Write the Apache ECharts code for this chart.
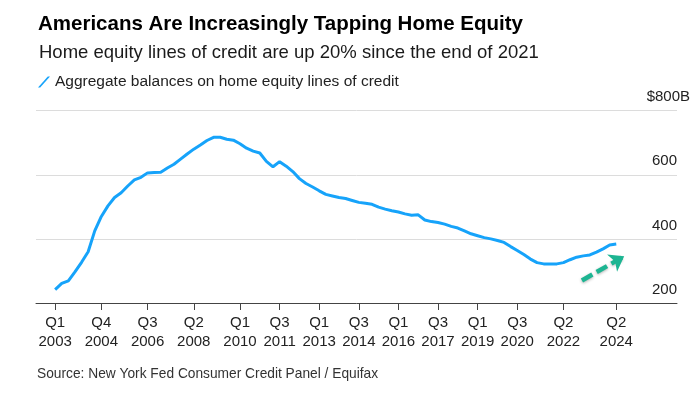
<!DOCTYPE html>
<html>
<head>
<meta charset="utf-8">
<script src="https://cdn.jsdelivr.net/npm/echarts@6/dist/echarts.min.js"></script>
<style>
html,body{margin:0;padding:0;background:#fff;}
#chart{width:700px;height:394px;}
</style>
</head>
<body>
<div id="chart"></div>
<script>
// Quarter index 0 = Q1 2003 ... 85 = Q2 2024
var values = [242,261,269,297,327,360,425,470,503,529,544,565,584,592,606,607,608,621,633,649,
              665,680,693,707,717,717,711,708,697,683,674,668,642,625,641,627,610,588,573,562,
              550,539,534,529,526,520,514,511,508,499,493,488,484,478,474,475,459,454,451,446,
              439,434,425,416,410,404,400,395,389,376,364,351,337,326,322,322,322,326,335,343,
              347,350,359,369,381,384];
var tickIdx = [0,7,14,21,28,34,40,46,52,58,64,70,77,85];
var tickLabels = ['Q1\n2003','Q4\n2004','Q3\n2006','Q2\n2008','Q1\n2010','Q3\n2011','Q1\n2013',
                  'Q3\n2014','Q1\n2016','Q3\n2017','Q1\n2019','Q3\n2020','Q2\n2022','Q2\n2024'];
var arrowFrom = [79.8, 270];
var arrowTo = [86.2, 346];

var FONT = '"Liberation Sans", Arial, Helvetica, sans-serif';
var seriesData = values.map(function(v,i){return [i,v];});

var chart = echarts.init(document.getElementById('chart'), null, {renderer:'canvas'});
chart.setOption({
  animation:false,
  backgroundColor:'#fff',
  textStyle:{fontFamily:FONT},
  title:[
    {text:'Americans Are Increasingly Tapping Home Equity', left:33, top:9,
     textStyle:{fontFamily:FONT,fontSize:20.5,fontWeight:'bold',color:'#000'}},
    {text:'Home equity lines of credit are up 20% since the end of 2021', left:34, top:38,
     textStyle:{fontFamily:FONT,fontSize:18.5,fontWeight:'normal',color:'#1a1a1a'}},
    {text:'Source: New York Fed Consumer Credit Panel / Equifax', left:32, top:362,
     textStyle:{fontFamily:FONT,fontSize:13.75,fontWeight:'normal',color:'#333'}}
  ],
  legend:{
    left:33, top:69, itemWidth:12, itemHeight:11, itemGap:10,
    icon:'path://M0,11 L2.2,11 L12,0 L9.8,0 Z',
    textStyle:{fontFamily:FONT,fontSize:15.5,color:'#222'},
    data:['Aggregate balances on home equity lines of credit']
  },
  grid:{left:36, right:23, top:110.7, bottom:91},
  xAxis:{
    type:'value', min:-2.9, max:94.2,
    splitLine:{show:false},
    axisLine:{show:true,lineStyle:{color:'#444',width:1}},
    axisTick:{show:true,customValues:tickIdx,length:7,lineStyle:{color:'#444'}},
    axisLabel:{customValues:tickIdx,margin:10,fontFamily:FONT,fontSize:15,color:'#222',lineHeight:19,
      formatter:function(v){var k=tickIdx.indexOf(Math.round(v));return k>=0?tickLabels[k]:'';}}
  },
  yAxis:{
    type:'value', position:'right', min:200, max:800, interval:200,
    axisLine:{show:false}, axisTick:{show:false},
    splitLine:{lineStyle:{color:'#dcdcdc',width:1}},
    axisLabel:{inside:true,margin:0,align:'right',verticalAlign:'bottom',padding:[0,0,6,0],
      fontFamily:FONT,fontSize:15,color:'#222',
      formatter:function(v){return v===800?'{u|$800B}':String(v);},
      rich:{u:{fontFamily:FONT,fontSize:15,color:'#222',padding:[0,-13,0,0]}}}
  },
  series:[{
    name:'Aggregate balances on home equity lines of credit',
    type:'line', data:seriesData, showSymbol:false, symbol:'none',
    itemStyle:{color:'#16a3fa'},
    lineStyle:{color:'#16a3fa',width:3},
    z:3,
    markLine:{
      silent:true, symbol:['none','arrow'], symbolSize:[15,14],
      label:{show:false},
      lineStyle:{color:'#1db592',width:4.5,type:[12,5],shadowColor:'rgba(0,0,0,0.3)',shadowBlur:3,shadowOffsetY:1},
      data:[[{coord:arrowFrom},{coord:arrowTo}]]
    }
  }]
});
</script>
</body>
</html>
